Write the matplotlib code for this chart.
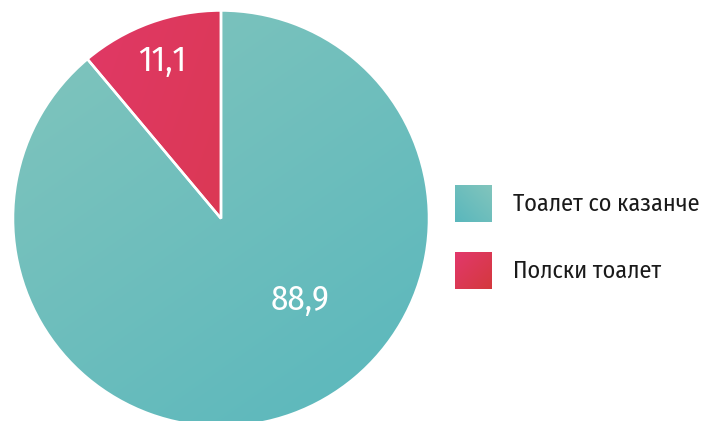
import numpy as np
import matplotlib
matplotlib.use("Agg")
import matplotlib.pyplot as plt
from matplotlib.patches import Rectangle
from matplotlib.colors import to_rgb

labels = ["Полски тоалет", "Тоалет со казанче"]
values = [11.1, 88.9]
value_text = ["11,1", "88,9"]
legend_order = [1, 0]

FONT = ["Fira Sans Condensed", "DejaVu Sans"]

W, H = 702, 421
fig = plt.figure(figsize=(W / 100, H / 100), dpi=100)
ax = fig.add_axes([0, 0, 1, 1])

cx, cy, R = 221, H - 218.5, 208

# gradient colours (start, end) and direction for each slice
grads = [
    (("#e2396c", "#d4383d"), (1.0, -0.35)),
    (("#82c5bc", "#59b7bd"), (0.7, -1.0)),
]

def gradient_img(c0, c1, d, n=200):
    d = np.array(d, float)
    d /= np.linalg.norm(d)
    yy, xx = np.mgrid[1:-1:n * 1j, -1:1:n * 1j]
    t = xx * d[0] + yy * d[1]
    t = (t - t.min()) / (t.max() - t.min())
    a, b = np.array(to_rgb(c0)), np.array(to_rgb(c1))
    return a + (b - a) * t[..., None]

wedges, _ = ax.pie(values, center=(cx, cy), radius=R, startangle=90,
                   counterclock=True, colors=["none", "none"],
                   wedgeprops=dict(edgecolor="white", linewidth=1.8),
                   frame=True)

for w, ((c0, c1), d) in zip(wedges, grads):
    im = ax.imshow(gradient_img(c0, c1, d), extent=(cx - R, cx + R, cy - R, cy + R),
                   origin="upper", zorder=0.5, interpolation="bilinear")
    im.set_clip_path(w)
    w.set_zorder(1)

# value labels
label_pos = [(162, H - 61), (300, H - 300)]
for (x, y), t in zip(label_pos, value_text):
    ax.text(x, y, t, color="white", fontsize=25, family=FONT,
            ha="center", va="center", zorder=3)

# legend
box = 37
for k, i in enumerate(legend_order):
    x0, y0 = 455, H - (222 + k * 67)
    (c0, c1), d = grads[i]
    sq = Rectangle((x0, y0), box, box, facecolor="none", edgecolor="none")
    ax.add_patch(sq)
    img = gradient_img(c0, c1, (-1.0, -1.0) if i == 1 else (1.0, -1.0))
    im = ax.imshow(img, extent=(x0, x0 + box, y0, y0 + box), origin="upper",
                   zorder=2, interpolation="bilinear")
    im.set_clip_path(sq)
    ax.text(513, y0 + box / 2, labels[i], fontsize=17.4, family=FONT,
            color="#1a1a1a", ha="left", va="center")

ax.set_xlim(0, W)
ax.set_ylim(0, H)
ax.set_aspect("equal")
ax.axis("off")
fig.savefig("out.png", dpi=100)
